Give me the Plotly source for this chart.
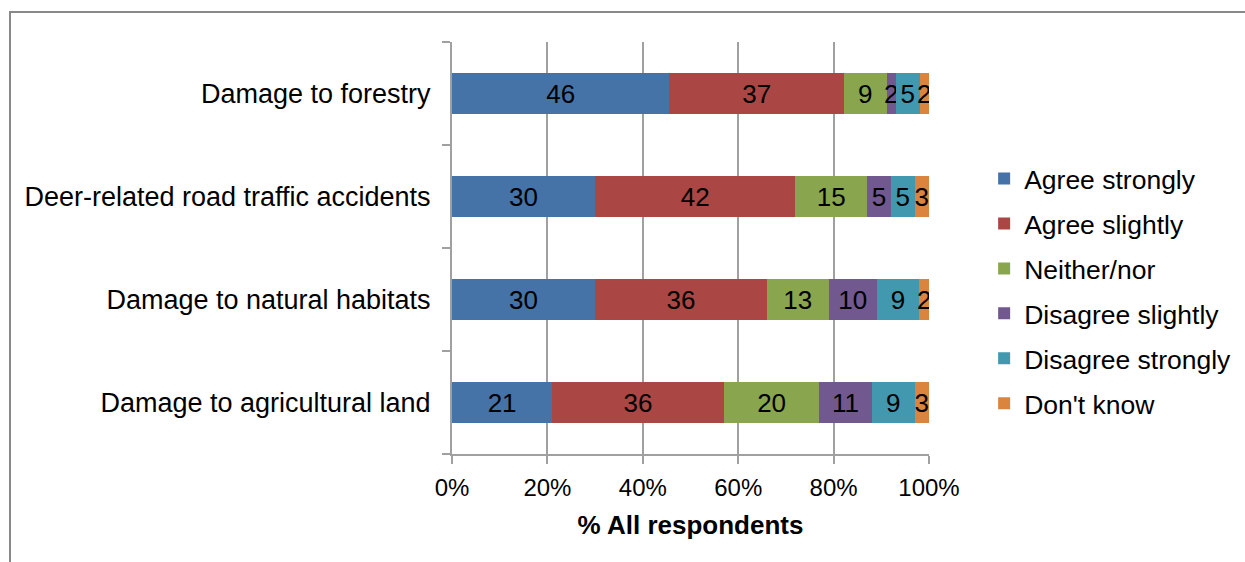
import plotly.graph_objects as go

categories = ["Damage to agricultural land", "Damage to natural habitats",
              "Deer-related road traffic accidents", "Damage to forestry"]
series_names = ["Agree strongly", "Agree slightly", "Neither/nor",
                "Disagree slightly", "Disagree strongly", "Don't know"]
agree_strongly = [21, 30, 30, 46]
agree_slightly = [36, 36, 42, 37]
neither_nor = [20, 13, 15, 9]
disagree_slightly = [11, 10, 5, 2]
disagree_strongly = [9, 9, 5, 5]
dont_know = [3, 2, 3, 2]
series_values = [agree_strongly, agree_slightly, neither_nor,
                 disagree_slightly, disagree_strongly, dont_know]
colors = ["#4572A7", "#AA4643", "#89A54E", "#71588F", "#4198AF", "#DB843D"]
x_tick_vals = [0, 20, 40, 60, 80, 100]

FONT = "Liberation Sans, Arial, sans-serif"

fig = go.Figure()
for i, (name, vals, col) in enumerate(zip(series_names, series_values, colors)):
    fig.add_trace(go.Bar(
        y=categories, x=vals, name=name, orientation="h",
        marker=dict(color=col, line=dict(width=0)),
        text=[str(v) for v in vals], textposition="inside",
        insidetextanchor="middle", textangle=0, constraintext="none",
        textfont=dict(family=FONT, size=26, color="black"),
        legendgroup=name, hoverinfo="skip",
    ))

fig.update_layout(
    barmode="stack", barnorm="percent", bargap=0.6,
    width=1245, height=562,
    margin=dict(l=452, r=316, t=42, b=108, pad=0, autoexpand=False),
    paper_bgcolor="white", plot_bgcolor="white",
    font=dict(family=FONT, size=26, color="black"),
    legend=dict(x=1.1156, xanchor="left", y=0.395, yanchor="middle",
                traceorder="grouped", tracegroupgap=7.5,
                font=dict(family=FONT, size=26.5, color="black"),
                itemwidth=30, bgcolor="rgba(0,0,0,0)"),
    xaxis=dict(range=[0, 100], tickvals=x_tick_vals,
               ticktext=[f"{v}%" for v in x_tick_vals],
               showgrid=True, gridcolor="#A0A0A0", gridwidth=2,
               showline=True, linecolor="#A0A0A0", linewidth=2,
               ticks="outside", ticklen=8, tickwidth=2, tickcolor="#A0A0A0",
               tickfont=dict(family=FONT, size=24, color="black"),
               ticklabelstandoff=3,
               zeroline=False,
               title=dict(text="<b>% All respondents</b>", standoff=16,
                          font=dict(family=FONT, size=26, color="black"))),
    yaxis=dict(categoryorder="array", categoryarray=categories,
               showline=True, linecolor="#A0A0A0", linewidth=2,
               ticks="outside", ticklen=8, tickwidth=2, tickcolor="#A0A0A0",
               tickson="boundaries", showgrid=False,
               tickfont=dict(family=FONT, size=27, color="black"),
               ticklabelstandoff=14),
    shapes=[dict(type="rect", xref="paper", yref="paper",
                 x0=(10 - 452) / 477, x1=(1260 - 452) / 477,
                 y0=(454 - 580) / 412, y1=(454 - 12) / 412,
                 line=dict(color="#898989", width=2), layer="below")],
)

fig.write_html("out.html")
